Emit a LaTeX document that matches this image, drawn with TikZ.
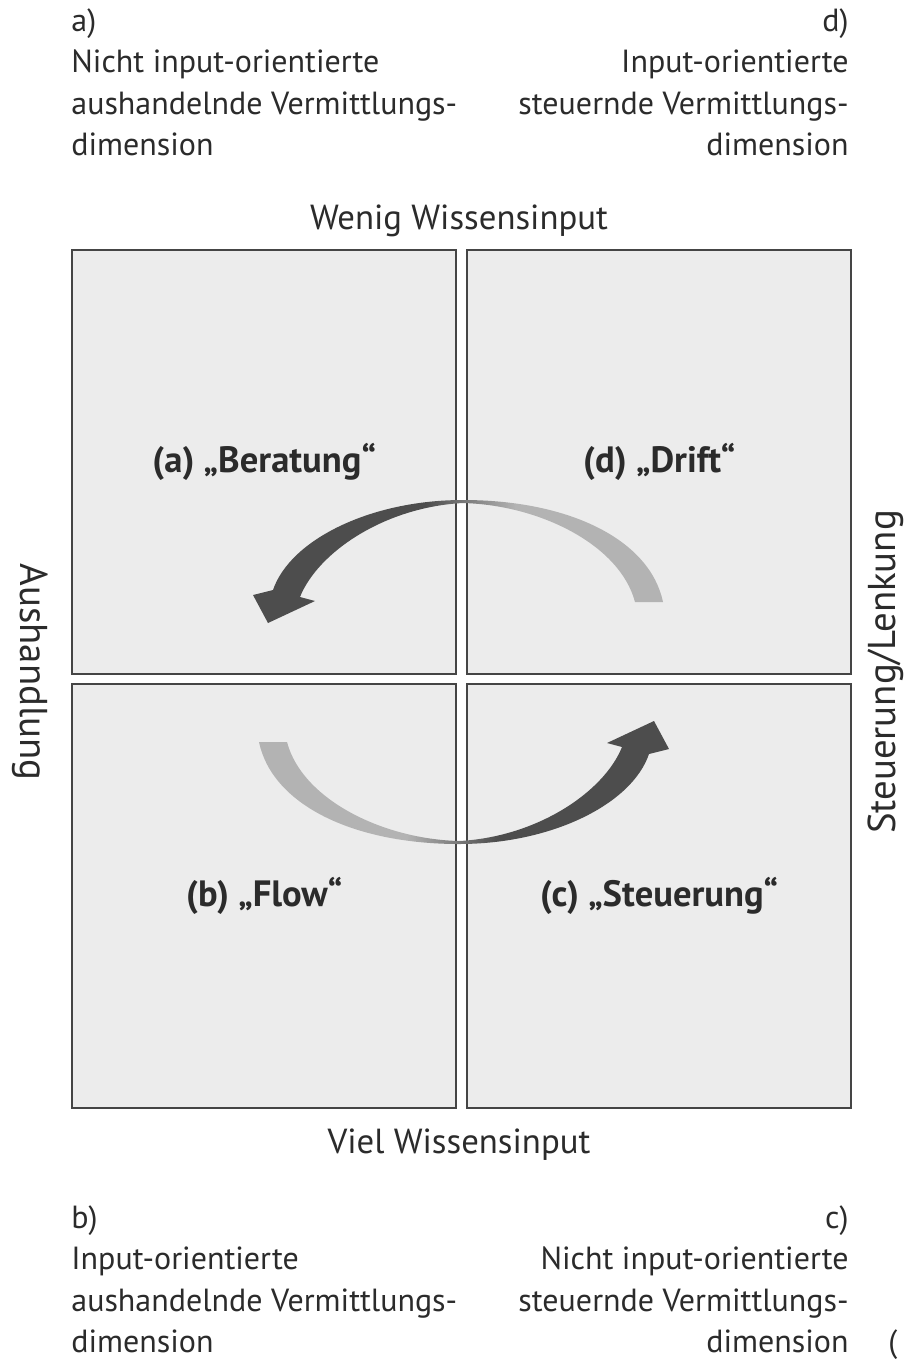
\documentclass[tikz,border=0pt]{standalone}
\usepackage{fontspec}
\setmainfont{PT Sans}
\usepackage{tikz}
\usetikzlibrary{positioning}
\definecolor{quadfill}{HTML}{ECECEC}
\definecolor{quadline}{HTML}{454545}
\definecolor{arrowdark}{HTML}{4D4D4D}
\definecolor{arrowlight}{HTML}{B3B3B3}
\definecolor{textgray}{HTML}{2B2B2B}
\pgfdeclarehorizontalshading{darkleft}{100bp}{color(0bp)=(arrowdark); color(25bp)=(arrowdark); color(46bp)=(arrowdark); color(57bp)=(arrowlight); color(75bp)=(arrowlight); color(100bp)=(arrowlight)}
\pgfdeclarehorizontalshading{darkright}{100bp}{color(0bp)=(arrowlight); color(25bp)=(arrowlight); color(43bp)=(arrowlight); color(54bp)=(arrowdark); color(75bp)=(arrowdark); color(100bp)=(arrowdark)}

\begin{document}
\begin{tikzpicture}[
    x=0.5pt, y=-0.5pt,
    quad/.style={rectangle, draw=quadline, line width=1.2pt, fill=quadfill, minimum width=192pt, minimum height=212pt, inner sep=0pt, anchor=north west, align=center, text=textgray, font=\fontsize{18.3}{21}\selectfont\bfseries},
    cornertext/.style={inner sep=0pt, text=textgray, font=\fontsize{16}{20.75}\selectfont},
    axislabel/.style={inner sep=0pt, text=textgray, font=\fontsize{17.4}{20.75}\selectfont},
    sidelabel/.style={inner sep=0pt, text=textgray, font=\fontsize{19.4}{22}\selectfont}
]
\useasboundingbox[fill=white] (0,0) rectangle (904,1362);
% quadrants
\node[quad] (qa) at (71,249) {(a) „Beratung“};
\node[quad] (qd) at (466,249) {(d) „Drift“};
\node[quad] (qb) at (71,683) {(b) „Flow“};
\node[quad] (qc) at (466,683) {\raisebox{4pt}{(c) „Steuerung“}};
% axes
\node[axislabel] (wenig) at (459,221) {Wenig Wissensinput};
\node[axislabel] (viel) at (459,1145) {Viel Wissensinput};
\node[sidelabel, rotate=-90] (aush) at (30,672) {Aushandlung};
\node[sidelabel, rotate=90] (steu) at (886,672) {Steuerung/Lenkung};
% corner texts
\node[cornertext, anchor=north west, align=left] (txta) at (71,8) {a)\\Nicht input-orientierte\\aushandelnde Vermittlungs-\\dimension};
\node[cornertext, anchor=north east, align=right] (txtd) at (849,8) {d)\\Input-orientierte\\steuernde Vermittlungs-\\dimension};
\node[cornertext, anchor=north west, align=left] (txtb) at (71,1205) {b)\\Input-orientierte\\aushandelnde Vermittlungs-\\dimension};
\node[cornertext, anchor=north east, align=right] (txtc) at (849,1205) {c)\\Nicht input-orientierte\\steuernde Vermittlungs-\\dimension};
\node[cornertext, anchor=base west] (paren) at (888,1352) {(};
% cycle arrows
\shade[shading=darkleft] (663,602) .. controls (650,540) and (570,500) .. (463,500)
  .. controls (370,500) and (290,540) .. (273,590) -- (253,595) -- (268,623) -- (315,601) -- (300,597)
  .. controls (318,552) and (385,507) .. (463,503) .. controls (540,505) and (620,545) .. (635,602) -- cycle;
\shade[shading=darkright] (259,742) .. controls (272,804) and (352,844) .. (459,844)
  .. controls (552,844) and (632,804) .. (649,754) -- (669,749) -- (654,721) -- (607,743) -- (622,747)
  .. controls (604,792) and (537,837) .. (459,841) .. controls (382,839) and (302,799) .. (287,742) -- cycle;
\end{tikzpicture}
\end{document}
